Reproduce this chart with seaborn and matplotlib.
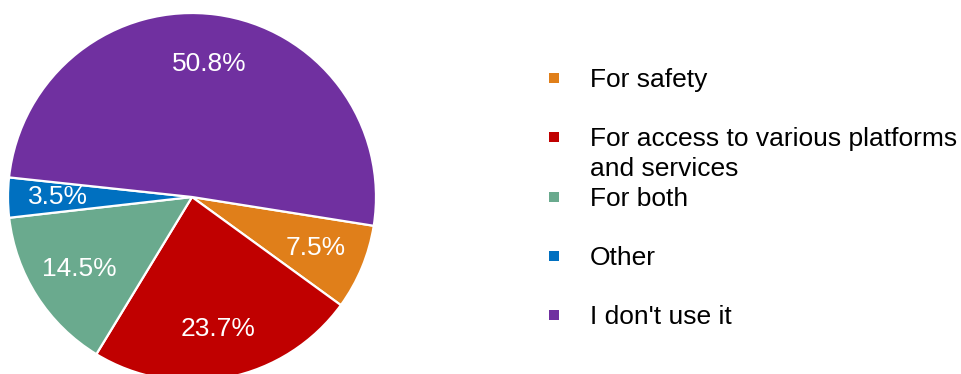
import matplotlib
matplotlib.use("Agg")
import matplotlib.pyplot as plt
import seaborn as sns
from matplotlib.patches import Rectangle

categories = ["For safety", "For access to various platforms\nand services", "For both", "Other", "I don't use it"]
values = [7.5, 23.7, 14.5, 3.5, 50.8]
colors = ["#e07f1a", "#c00000", "#6aaa8e", "#0070c0", "#7030a0"]

sns.set_style("white")
plt.rcParams['font.family'] = ['Liberation Sans', 'DejaVu Sans']

W, H = 961, 374
fig = plt.figure(figsize=(W / 100, H / 100), dpi=100)
cx, cy, r = 192, 197, 184
ax = fig.add_axes([(cx - r) / W, (H - cy - r) / H, 2 * r / W, 2 * r / H])

wedges, texts, autotexts = ax.pie(
    values, colors=colors, startangle=-9, counterclock=False,
    autopct=lambda p: f"{p:.1f}%", pctdistance=0.73,
    wedgeprops=dict(edgecolor="white", linewidth=1.6),
    textprops=dict(color="white", fontsize=19))
ax.set_xlim(-1, 1)
ax.set_ylim(-1, 1)
ax.set_aspect("equal")

# legend drawn manually
x_marker, x_text = 549 / W, 590 / W
y0, pitch = 78, 59.3
for i, (lab, col) in enumerate(zip(categories, colors)):
    y = y0 + i * pitch
    fig.patches.append(Rectangle((x_marker, 1 - (y + 5) / H), 10 / W, 10 / H,
                                 transform=fig.transFigure, facecolor=col, edgecolor="none"))
    fig.text(x_text, 1 - (y - 10) / H, lab, fontsize=19, color="black",
             va="top", ha="left", linespacing=1.3)

fig.savefig("out.png", dpi=100)
